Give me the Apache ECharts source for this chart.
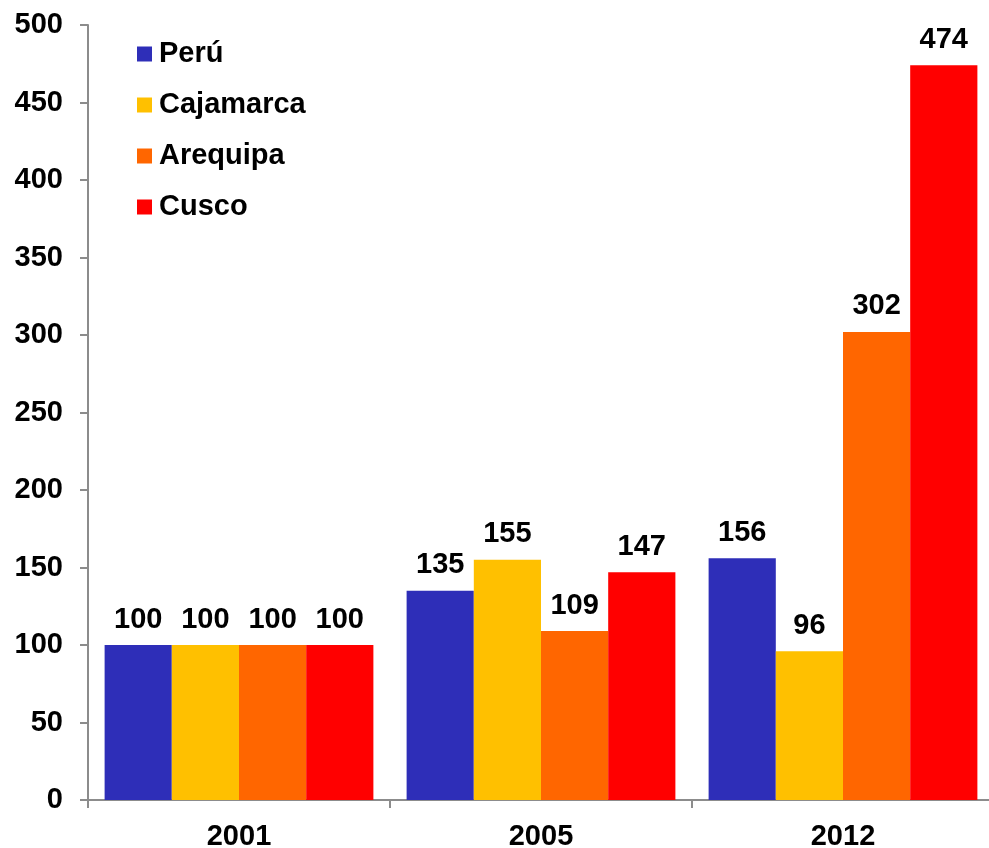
<!DOCTYPE html>
<html>
<head>
<meta charset="utf-8">
<script src="https://cdn.jsdelivr.net/npm/echarts@6/dist/echarts.min.js"></script>
<style>
  html, body { margin: 0; padding: 0; background: #fff; }
  #chart { width: 989px; height: 848px; }
</style>
</head>
<body>
<div id="chart"></div>
<script>
// categories and series
const years = ["2001", "2005", "2012"];
const peru = [100, 135, 156];
const cajamarca = [100, 155, 96];
const arequipa = [100, 109, 302];
const cusco = [100, 147, 474];

const names = ["Perú", "Cajamarca", "Arequipa", "Cusco"];
const colors = ["#2E2EB8", "#FFC000", "#FF6600", "#FF0000"];
const values = [peru, cajamarca, arequipa, cusco];

const font = "Arial, 'Liberation Sans', sans-serif";
const axisGray = "#8c8c8c";

const chart = echarts.init(document.getElementById("chart"));

// build bar series
let series = [];
names.forEach((name, i) => {
  series.push({
    name: name,
    type: "bar",
    data: values[i],
    barGap: "0%",
    barCategoryGap: "11%",
    itemStyle: { color: colors[i] },
    label: {
      show: true,
      position: "top",
      distance: 11,
      color: "#000",
      fontFamily: font,
      fontWeight: "bold",
      fontSize: 29,
    },
  });
});

chart.setOption({
  animation: false,
  color: colors,
  legend: {
    orient: "vertical",
    left: 137,
    top: 39,
    padding: 0,
    itemWidth: 15,
    itemHeight: 15,
    itemGap: 21,
    icon: "rect",
    textStyle: {
      color: "#000",
      fontFamily: font,
      fontWeight: "bold",
      fontSize: 29,
      lineHeight: 30,
      padding: [0, 0, 0, 2],
    },
    data: names,
  },
  grid: {
    left: 88,
    top: 25,
    width: 906,
    height: 775,
    containLabel: false,
    outerBoundsMode: "none",
  },
  xAxis: {
    type: "category",
    data: years,
    axisLine: { lineStyle: { color: axisGray, width: 2 } },
    axisTick: { show: true, length: 8, lineStyle: { color: axisGray, width: 2 } },
    axisLabel: {
      color: "#000",
      fontFamily: font,
      fontWeight: "bold",
      fontSize: 29,
      margin: 22,
    },
  },
  yAxis: {
    type: "value",
    min: 0,
    max: 500,
    interval: 50,
    axisLine: { show: true, lineStyle: { color: axisGray, width: 2 } },
    axisTick: { show: true, length: 8, lineStyle: { color: axisGray, width: 2 } },
    splitLine: { show: false },
    axisLabel: {
      color: "#000",
      fontFamily: font,
      fontWeight: "bold",
      fontSize: 29,
      margin: 25,
    },
  },
  series: series,
});
</script>
</body>
</html>
